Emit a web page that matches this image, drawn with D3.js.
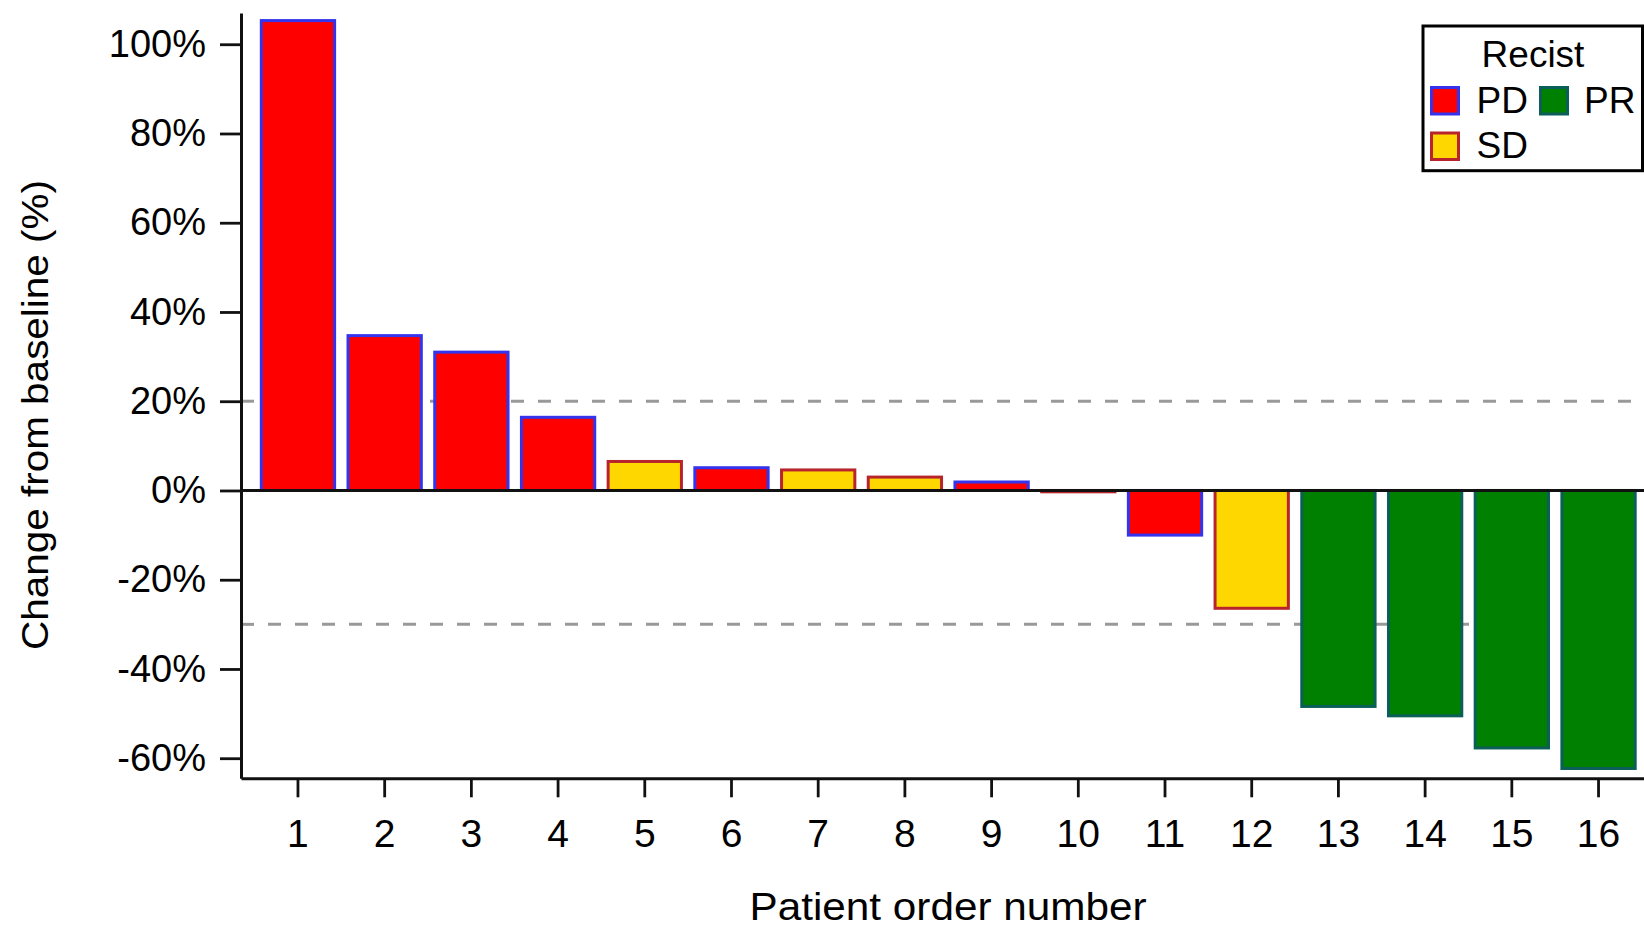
<!DOCTYPE html>
<html>
<head>
<meta charset="utf-8">
<script src="https://cdn.jsdelivr.net/npm/d3@7"></script>
<style>
  html, body { margin: 0; padding: 0; background: #fff; }
  svg { display: block; font-family: "Liberation Sans", Arial, sans-serif; }
</style>
</head>
<body>
<svg id="chart" width="1644" height="928"></svg>
<script>
// Waterfall of best change from baseline, one bar per patient
const patients = ["1","2","3","4","5","6","7","8","9","10","11","12","13","14","15","16"];
const changes  = [105.3, 34.7, 31.0, 16.4, 6.5, 5.1, 4.6, 3.0, 1.9, -0.3, -10.0, -26.4, -48.4, -50.5, -57.7, -62.3];
const recist   = ["PD","PD","PD","PD","SD","PD","SD","SD","PD","SD","PD","SD","PR","PR","PR","PR"];

const yTicks = [-60, -40, -20, 0, 20, 40, 60, 80, 100];
const refLines = [20, -30];

const legendOrder = ["PD", "PR", "SD"];
const fillColors   = { PD: "#ff0000", SD: "#ffd700", PR: "#008000" };
const strokeColors = { PD: "#3434ee", SD: "#b8242c", PR: "#0b5f58" };

const svg = d3.select("#chart");
const plotLeft = 241, plotBottom = 778.3, plotTop = 13;

const x = d3.scaleBand()
  .domain(patients)
  .range([plotLeft, 1655.5])
  .paddingInner(0.12)
  .paddingOuter(0.217);

const y = d3.scaleLinear()
  .domain([-64.5, 107])
  .range([plotBottom, plotTop]);

// reference thresholds (+20% / -30%), behind the bars
svg.append("g").selectAll("line")
  .data(refLines)
  .join("line")
  .attr("x1", plotLeft).attr("x2", 1644)
  .attr("y1", d => y(d)).attr("y2", d => y(d))
  .attr("stroke", "#999")
  .attr("stroke-width", 3)
  .attr("stroke-dasharray", "13,14");

// bars
const rows = patients.map((p, i) => ({ p, v: changes[i], r: recist[i] }));
svg.append("g").selectAll("rect")
  .data(rows)
  .join("rect")
  .attr("x", d => x(d.p) + 1.5)
  .attr("width", x.bandwidth() - 3)
  .attr("y", d => Math.min(y(d.v), y(0)))
  .attr("height", d => Math.abs(y(d.v) - y(0)))
  .attr("fill", d => fillColors[d.r])
  .attr("stroke", d => strokeColors[d.r])
  .attr("stroke-width", 3);

// zero line
svg.append("line")
  .attr("x1", plotLeft).attr("x2", 1644)
  .attr("y1", y(0)).attr("y2", y(0))
  .attr("stroke", "#111")
  .attr("stroke-width", 3);

// y axis
const yAxis = svg.append("g")
  .attr("transform", `translate(${plotLeft},0)`)
  .call(d3.axisLeft(y)
    .tickValues(yTicks)
    .tickFormat(d => d + "%")
    .tickSize(21)
    .tickSizeOuter(0)
    .tickPadding(14));
yAxis.select(".domain").attr("stroke", "#111").attr("stroke-width", 3);
yAxis.selectAll(".tick line").attr("stroke", "#111").attr("stroke-width", 2.8);
yAxis.selectAll(".tick text")
  .attr("fill", "#000")
  .style("font-size", "38px")
  .style("font-family", "'Liberation Sans', Arial, sans-serif");

// x axis
const xAxis = svg.append("g")
  .attr("transform", `translate(0,${plotBottom})`)
  .call(d3.axisBottom(x)
    .tickSize(19)
    .tickSizeOuter(0)
    .tickPadding(22));
xAxis.select(".domain").attr("stroke", "#111").attr("stroke-width", 3);
xAxis.selectAll(".tick line").attr("stroke", "#111").attr("stroke-width", 2.8);
xAxis.selectAll(".tick text")
  .attr("fill", "#000")
  .style("font-size", "39px")
  .style("font-family", "'Liberation Sans', Arial, sans-serif");

// axis titles
svg.append("text")
  .attr("x", 948).attr("y", 920)
  .attr("text-anchor", "middle")
  .attr("textLength", 397)
  .attr("lengthAdjust", "spacingAndGlyphs")
  .style("font-size", "38px")
  .text("Patient order number");

svg.append("text")
  .attr("transform", "translate(48,415) rotate(-90)")
  .attr("text-anchor", "middle")
  .attr("textLength", 470)
  .attr("lengthAdjust", "spacingAndGlyphs")
  .style("font-size", "36px")
  .text("Change from baseline (%)");

// legend
const lg = svg.append("g");
lg.append("rect")
  .attr("x", 1423).attr("y", 26)
  .attr("width", 219.5).attr("height", 144.7)
  .attr("fill", "#fff")
  .attr("stroke", "#000")
  .attr("stroke-width", 3);
lg.append("text")
  .attr("x", 1533).attr("y", 66.5)
  .attr("text-anchor", "middle")
  .style("font-size", "37px")
  .text("Recist");

const legendPos = {
  PD: { sx: 1431.5, sy: 87.5, tx: 1476.5, ty: 113 },
  PR: { sx: 1540.5, sy: 87.5, tx: 1584, ty: 113 },
  SD: { sx: 1431.5, sy: 133, tx: 1476.5, ty: 157.7 }
};
const items = lg.selectAll("g.item")
  .data(legendOrder)
  .join("g")
  .attr("class", "item");
items.append("rect")
  .attr("x", d => legendPos[d].sx)
  .attr("y", d => legendPos[d].sy)
  .attr("width", 27).attr("height", 26.5)
  .attr("fill", d => fillColors[d])
  .attr("stroke", d => strokeColors[d])
  .attr("stroke-width", 3);
items.append("text")
  .attr("x", d => legendPos[d].tx)
  .attr("y", d => legendPos[d].ty)
  .style("font-size", "37px")
  .text(d => d);
</script>
</body>
</html>
